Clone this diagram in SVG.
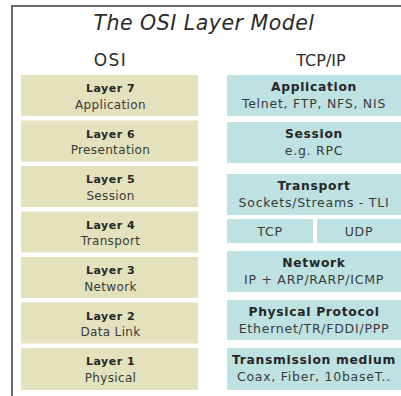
<svg xmlns="http://www.w3.org/2000/svg" width="401" height="396" viewBox="0 0 401 396">
<style>
  .osi { fill: #e4e2bc; }
  .tcp { fill: #bee2e1; }
  text { font-family: "DejaVu Sans", Verdana, sans-serif; text-anchor: middle; }
  .lb { font-size: 11px; font-weight: bold; letter-spacing: 0.5px; fill: #262626; }
  .lr { font-size: 12px; letter-spacing: 0.35px; fill: #3a3a3a; }
  .rb { font-size: 12.3px; font-weight: bold; letter-spacing: 0.7px; fill: #262626; }
  .rr { font-size: 12.5px; letter-spacing: 0.75px; fill: #3a3a3a; }
  .hd { font-size: 16px; fill: #2a2a2a; }
</style>
<rect x="0" y="0" width="401" height="396" fill="#ffffff"/>
<rect x="12" y="6" width="400" height="400" fill="none" stroke="#5a5a5a" stroke-width="1.8"/>
<text x="204" y="30" style="font-size:20.5px; font-style:italic; letter-spacing:0.5px; fill:#2a2a2a;">The OSI Layer Model</text>
<text class="hd" x="110.5" y="66" style="font-size:17px; letter-spacing:1.5px;">OSI</text>
<text class="hd" x="321" y="66">TCP/IP</text>

<g id="osi-layer7"><rect class="osi" x="21" y="75" width="177" height="41"/><text class="lb" x="110.5" y="92">Layer 7</text><text class="lr" x="110.5" y="108.5">Application</text></g>
<g id="osi-layer6"><rect class="osi" x="21" y="120.5" width="177" height="41"/><text class="lb" x="110.5" y="137.5">Layer 6</text><text class="lr" x="110.5" y="154">Presentation</text></g>
<g id="osi-layer5"><rect class="osi" x="21" y="166" width="177" height="41"/><text class="lb" x="110.5" y="183">Layer 5</text><text class="lr" x="110.5" y="199.5">Session</text></g>
<g id="osi-layer4"><rect class="osi" x="21" y="211.5" width="177" height="41"/><text class="lb" x="110.5" y="228.5">Layer 4</text><text class="lr" x="110.5" y="245">Transport</text></g>
<g id="osi-layer3"><rect class="osi" x="21" y="257" width="177" height="41"/><text class="lb" x="110.5" y="274">Layer 3</text><text class="lr" x="110.5" y="290.5">Network</text></g>
<g id="osi-layer2"><rect class="osi" x="21" y="302.5" width="177" height="41"/><text class="lb" x="110.5" y="319.5">Layer 2</text><text class="lr" x="110.5" y="336">Data Link</text></g>
<g id="osi-layer1"><rect class="osi" x="21" y="348" width="177" height="42"/><text class="lb" x="110.5" y="365">Layer 1</text><text class="lr" x="110.5" y="381.5">Physical</text></g>

<g id="tcp-application"><rect class="tcp" x="227" y="75" width="174" height="41"/><text class="rb" x="314" y="91">Application</text><text class="rr" x="314" y="108">Telnet, FTP, NFS, NIS</text></g>
<g id="tcp-session"><rect class="tcp" x="227" y="122" width="174" height="41"/><text class="rb" x="314" y="138">Session</text><text class="rr" x="314" y="155">e.g. RPC</text></g>
<g id="tcp-transport"><rect class="tcp" x="227" y="174" width="174" height="41"/><text class="rb" x="314" y="190">Transport</text><text class="rr" x="314" y="207">Sockets/Streams - TLI</text></g>
<g id="tcp-tcp"><rect class="tcp" x="227" y="219" width="86" height="24"/><text class="rr" x="270" y="235.5">TCP</text></g>
<g id="tcp-udp"><rect class="tcp" x="317" y="219" width="84" height="24"/><text class="rr" x="359" y="235.5">UDP</text></g>
<g id="tcp-network"><rect class="tcp" x="227" y="251" width="174" height="41"/><text class="rb" x="314" y="267">Network</text><text class="rr" x="314" y="284">IP + ARP/RARP/ICMP</text></g>
<g id="tcp-physical"><rect class="tcp" x="227" y="300" width="174" height="40"/><text class="rb" x="314" y="316">Physical Protocol</text><text class="rr" x="314" y="333">Ethernet/TR/FDDI/PPP</text></g>
<g id="tcp-medium"><rect class="tcp" x="227" y="348" width="174" height="42"/><text class="rb" x="314" y="364">Transmission medium</text><text class="rr" x="314" y="381">Coax, Fiber, 10baseT..</text></g>

<g id="connectors"></g>
</svg>
